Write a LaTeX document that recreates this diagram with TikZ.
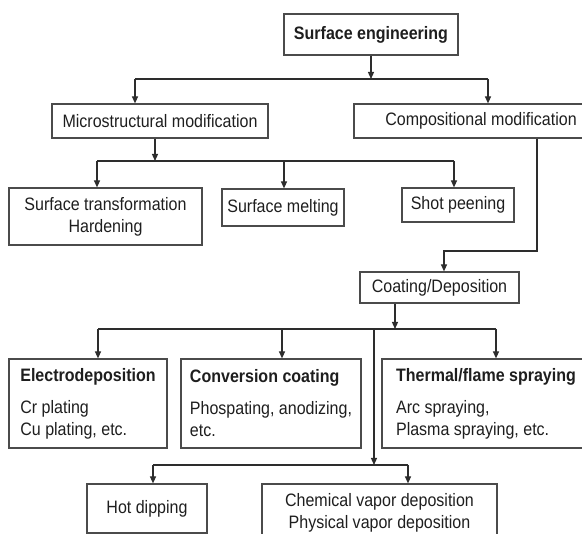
\documentclass[tikz,border=0pt]{standalone}
\usepackage{fontspec}
\setmainfont[FakeStretch=0.89]{Liberation Sans}
\usepackage{tikz}
\usetikzlibrary{arrows.meta,positioning,calc}
\definecolor{linegray}{RGB}{45,45,45}
\definecolor{boxgray}{RGB}{75,75,75}
\definecolor{textgray}{RGB}{30,30,30}

\begin{document}
\begin{tikzpicture}[
    x=1pt, y=-1pt,
    box/.style={rectangle, draw=boxgray, line width=1.2pt, align=center, inner sep=0pt,
        text=textgray, font=\fontsize{18}{22}\selectfont},
    groupbox/.style={box, align=left},
    line/.style={draw=linegray, line width=1.2pt},
    arrow/.style={line, -{Triangle[length=7pt, width=6pt]}}
]
\clip (0,0) rectangle (582,534);

% Nodes
\node[box, minimum width=174, minimum height=41] (surf) at (371,34.5) {\textbf{Surface engineering}};
\node[box, minimum width=216, minimum height=34] (micro) at (160,121) {Microstructural modification};
\node[box, minimum width=254, minimum height=34] (comp) at (481,121) {Compositional modification};
\node[box, minimum width=193, minimum height=57] (trans) at (105.5,216.5) {Surface transformation\\Hardening};
\node[box, minimum width=122, minimum height=37] (melt) at (283,207.5) {Surface melting};
\node[box, minimum width=112, minimum height=34] (shot) at (458,205) {Shot peening};
\node[box, minimum width=159, minimum height=31] (coat) at (439.5,287.5) {Coating/Deposition};
\node[groupbox, minimum width=158, minimum height=89] (electro) at (88,403.5)
    {\textbf{Electrodeposition}\\[10pt]Cr plating\\Cu plating, etc.};
\node[groupbox, minimum width=180, minimum height=89] (conv) at (271,403.5)
    {\textbf{Conversion coating}\\[10pt]Phospating, anodizing,\\etc.};
\node[groupbox, minimum width=208, minimum height=89] (thermal) at (486,403.5)
    {\textbf{Thermal/flame spraying}\\[10pt]Arc spraying,\\Plasma spraying, etc.};
\node[box, minimum width=120, minimum height=49] (hotdip) at (147,508.5) {Hot dipping};
\node[box, minimum width=235, minimum height=58] (vapor) at (379.5,513) {Chemical vapor deposition\\Physical vapor deposition};

% Junctions
\coordinate (j1) at (371,79);
\coordinate (j1l) at (135,79);
\coordinate (j1r) at (488,79);
\coordinate (j2) at (155,161);
\coordinate (j2l) at (97,161);
\coordinate (j2m) at (284,161);
\coordinate (j2r) at (454,161);
\coordinate (k1) at (537,251);
\coordinate (k2) at (444,251);
\coordinate (j3) at (395,329);
\coordinate (j3l) at (98,329);
\coordinate (j3m) at (282,329);
\coordinate (j3v) at (374,329);
\coordinate (j3r) at (496,329);
\coordinate (j4) at (374,465);
\coordinate (j4l) at (153,465);
\coordinate (j4r) at (408,465);

% Arrows
\draw[arrow] (surf.south) -- (j1);
\draw[line] (j1l) -- (j1r);
\draw[arrow] (j1l) -- (j1l |- micro.north);
\draw[arrow] (j1r) -- (j1r |- comp.north);

\draw[arrow] (micro.south -| j2) -- (j2);
\draw[line] (j2l) -- (j2r);
\draw[arrow] (j2l) -- (j2l |- trans.north);
\draw[arrow] (j2m) -- (j2m |- melt.north);
\draw[arrow] (j2r) -- (j2r |- shot.north);

\draw[arrow] (k1 |- comp.south) -- (k1) -- (k2) -- (k2 |- coat.north);

\draw[arrow] (coat.south -| j3) -- (j3);
\draw[line] (j3l) -- (j3r);
\draw[arrow] (j3l) -- (j3l |- electro.north);
\draw[arrow] (j3m) -- (j3m |- conv.north);
\draw[arrow] (j3r) -- (j3r |- thermal.north);
\draw[arrow] (j3v) -- (j4);
\draw[line] (j4l) -- (j4r);
\draw[arrow] (j4l) -- (j4l |- hotdip.north);
\draw[arrow] (j4r) -- (j4r |- vapor.north);
\end{tikzpicture}
\end{document}
